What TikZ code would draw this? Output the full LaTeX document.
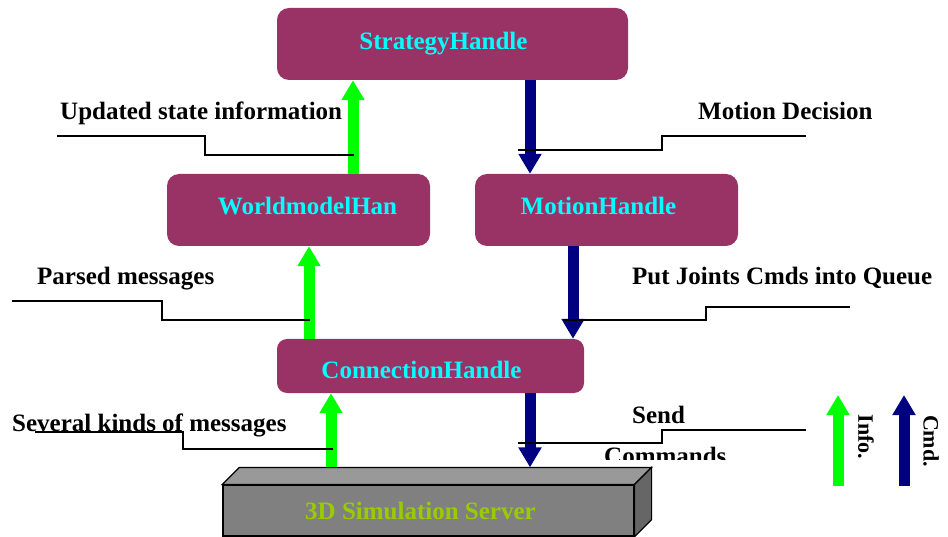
\documentclass[tikz,border=0pt]{standalone}
\usepackage{fontspec}
\setmainfont{Liberation Serif}
\usetikzlibrary{arrows.meta}
\definecolor{handlecol}{HTML}{993366}
\definecolor{handletext}{HTML}{00FFFF}
\definecolor{infocol}{HTML}{00FF00}
\definecolor{cmdcol}{HTML}{000080}
\definecolor{serverfront}{HTML}{808080}
\definecolor{servertop}{HTML}{999999}
\definecolor{serverside}{HTML}{666666}
\definecolor{servertext}{HTML}{99CC00}
\begin{document}
\begin{tikzpicture}[x=1pt, y=-1pt,
    every node/.style={font=\bfseries\fontsize{25}{30}\selectfont},
    handle/.style={fill=handlecol, rounded corners=12pt,
                   minimum width=263pt, minimum height=72pt},
    handletxt/.style={text=handletext},
    server/.style={fill=serverfront, draw=black, line width=1.2pt,
                   minimum width=411pt, minimum height=51pt},
    info/.style={draw=infocol, line width=11pt, -{Triangle[width=22pt,length=20pt]}},
    cmd/.style={draw=cmdcol, line width=11pt, -{Triangle[width=22pt,length=20pt]}},
    callout/.style={draw=black, line width=1.2pt},
    lbl/.style={inner sep=0pt, anchor=base west},
    legend/.style={inner sep=0pt, rotate=-90, font=\bfseries\fontsize{22}{26}\selectfont}]
\useasboundingbox (0,0) rectangle (948,537);

% handles
\node[handle, minimum width=351pt,
      label={[handletxt, xshift=-9pt]center:StrategyHandle}] (strategy) at (452.5,44) {};
\node[handle, label={[handletxt, xshift=9pt, yshift=4pt]center:WorldmodelHan}]
    (worldmodel) at (298.5,210) {};
\node[handle, label={[handletxt, xshift=-8pt, yshift=4pt]center:MotionHandle}]
    (motion) at (606.5,210) {};
\node[handle, minimum width=307pt, minimum height=54pt, rounded corners=10pt,
      label={[handletxt, xshift=-9pt, yshift=-4pt]center:ConnectionHandle}]
    (connection) at (430.5,366) {};

% simulation server as a block
\node[server, label={[text=servertext, xshift=-8pt]center:3D Simulation Server}]
    (server) at (428.5,510.5) {};
\filldraw[fill=servertop, line width=1.2pt] (server.north west) -- ++(17,-17)
    -- ([shift={(17,-17)}]server.north east) -- (server.north east) -- cycle;
\filldraw[fill=serverside, line width=1.2pt] (server.north east) -- ++(17,-17)
    -- ([shift={(17,-17)}]server.south east) -- (server.south east) -- cycle;
\coordinate (serverback) at ([yshift=17pt]server.north);

% info and command flow
\draw[info] (serverback -| 331,0) -- (connection.south -| 331,0);
\draw[cmd] (connection.south -| 530,0) -- (serverback -| 530,0);
\draw[info] (connection.north -| 309,0) -- (worldmodel.south -| 309,0);
\draw[cmd] (motion.south -| 573,0) -- (connection.north -| 573,0);
\draw[info] (worldmodel.north -| 353,0) -- (strategy.south -| 353,0);
\draw[cmd] (strategy.south -| 530,0) -- (motion.north -| 530,0);

% callout lines
\foreach \sx/\sy/\kx/\ey/\ex in {57/136/205/155/354, 806/136/662/150/518,
    12/301/162/320/310, 850/307/706/320/563, 35/432/183/449/333, 806/430/662/443/518}
{
    \draw[callout] (\sx,\sy) -- (\kx,\sy) |- (\ex,\ey);
}

% labels
\node[lbl] (updated) at (60,120) {Updated state information};
\node[lbl] (decision) at (698,120) {Motion Decision};
\node[lbl] (parsed) at (37,285) {Parsed messages};
\node[lbl] (joints) at (632,285) {Put Joints Cmds into Queue};
\node[lbl] (several) at (12,431) {Several kinds of messages};
\node[lbl] (send) at (632,423) {Send};
\begin{scope}
\clip (590,440) rectangle (760,459);
\node[lbl] (commands) at (604,464) {Commands};
\end{scope}

% legend
\coordinate (infofoot) at (838,486);
\coordinate (infohead) at (838,395);
\coordinate (cmdfoot) at (904,486);
\coordinate (cmdhead) at (904,395);
\draw[info] (infofoot) -- (infohead);
\draw[cmd] (cmdfoot) -- (cmdhead);
\node[legend] (infolbl) at (866,437) {Info.};
\node[legend] (cmdlbl) at (931,441) {Cmd.};
\end{tikzpicture}
\end{document}
